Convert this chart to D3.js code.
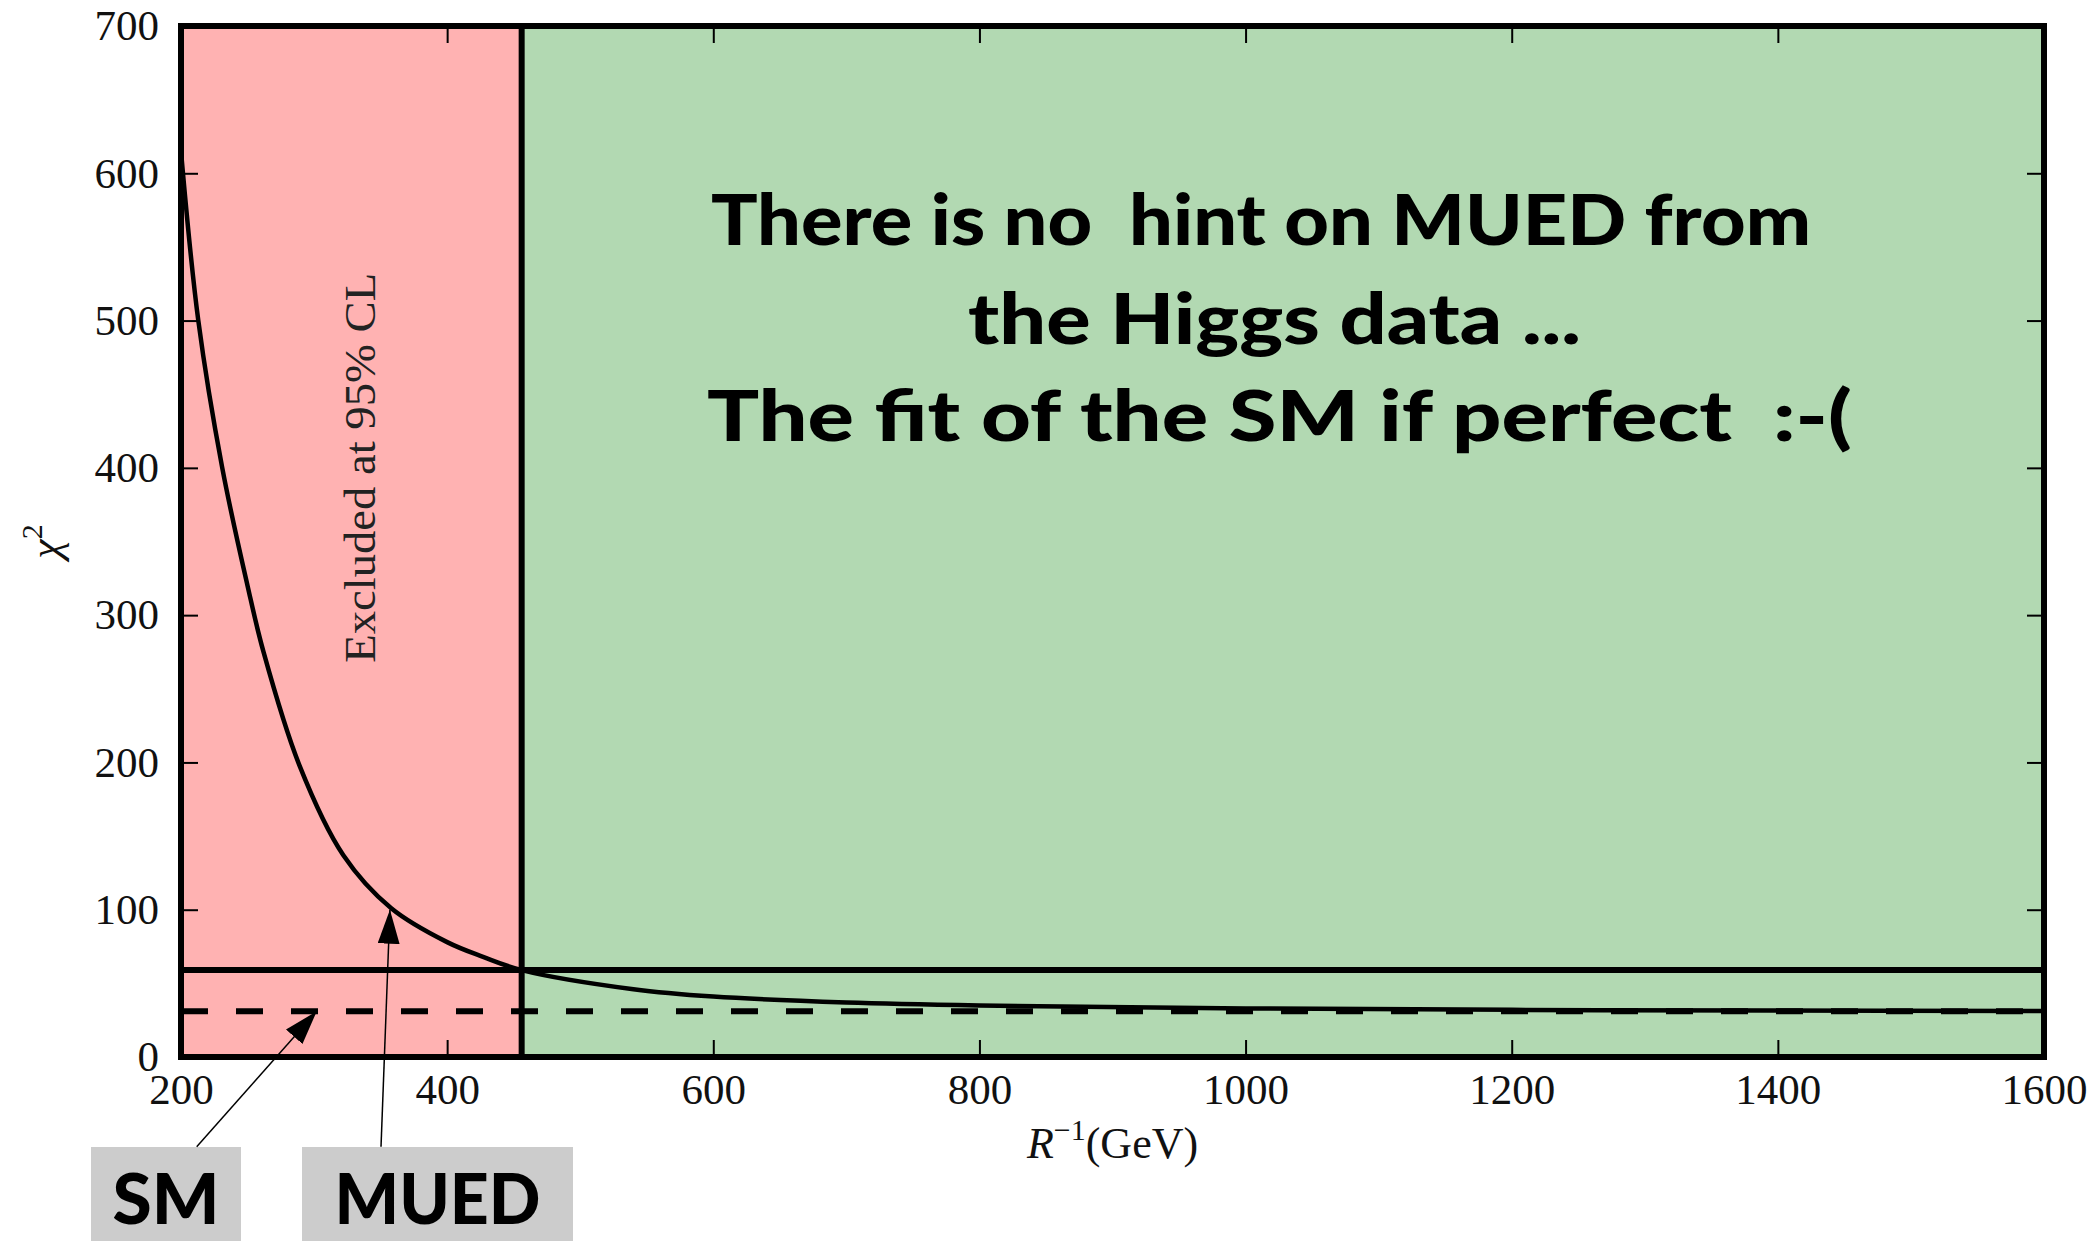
<!DOCTYPE html>
<html lang="en">
<head>
<meta charset="UTF-8">
<title>chi2 vs R^-1</title>
<script src="https://cdn.jsdelivr.net/npm/d3@7"></script>
<style>
  body { margin: 0; background: #fff; }
  .tick text { font-family: "Liberation Serif", "DejaVu Serif", serif; font-size: 43px; fill: #111; }
  .note { font-family: "Lato", "Open Sans", sans-serif; font-weight: 900; font-size: 70px; fill: #000; }
</style>
</head>
<body>
<script>

// ---- data ----
var xTicks = [200, 400, 600, 800, 1000, 1200, 1400, 1600];
var yTicks = [0, 100, 200, 300, 400, 500, 600, 700];

// MUED chi^2 curve
var rInv  = [200, 213, 231, 250, 262, 289, 322, 358, 400, 427, 456, 540, 600, 700, 800, 1000, 1200, 1400, 1600];
var chi2  = [615, 500, 400, 320, 275, 198, 137, 101,  78,  68,  59,  46,  41,  37,  35,   33,   32, 31.5, 31.3];

var chi2SM = 31;        // dashed line
var chi2Cut = 59;       // solid line
var rExcluded = 456;    // 95% CL exclusion boundary

var noteLines = ["There is no  hint on MUED from", "the Higgs data ...", "The fit of the SM if perfect  :-("];
var boxLabels = ["SM", "MUED"];
var arrowTips = [[302, 31], [357, 100]];
var arrowTails = [[211.8, -61], [350.3, -61]];

// ---- layout ----
var W = 2098, H = 1241;
var pLeft = 181, pRight = 2044, pTop = 26, pBottom = 1057;

var svg = d3.select("body").append("svg")
    .attr("width", W)
    .attr("height", H);

var x = d3.scaleLinear().domain([200, 1600]).range([pLeft, pRight]);
var y = d3.scaleLinear().domain([0, 700]).range([pBottom, pTop]);

var defs = svg.append("defs");
defs.append("clipPath").attr("id", "plotclip")
    .append("rect")
    .attr("x", pLeft).attr("y", pTop)
    .attr("width", pRight - pLeft).attr("height", pBottom - pTop);

defs.append("marker")
    .attr("id", "head")
    .attr("markerUnits", "userSpaceOnUse")
    .attr("viewBox", "0 -11 34 22")
    .attr("refX", 34).attr("refY", 0)
    .attr("markerWidth", 34).attr("markerHeight", 22)
    .attr("orient", "auto")
    .append("path")
    .attr("d", "M0,-11L34,0L0,11Z")
    .attr("fill", "#000");

// shaded regions
svg.append("rect")
    .attr("x", x(200)).attr("y", pTop)
    .attr("width", x(rExcluded) - x(200)).attr("height", pBottom - pTop)
    .attr("fill", "#ffb2b2");
svg.append("rect")
    .attr("x", x(rExcluded)).attr("y", pTop)
    .attr("width", x(1600) - x(rExcluded)).attr("height", pBottom - pTop)
    .attr("fill", "#b2d9b2");

// excluded label
svg.append("text")
    .attr("transform", "translate(" + x(346) + "," + y(400) + ") rotate(-90)")
    .attr("text-anchor", "middle")
    .attr("textLength", 390)
    .attr("lengthAdjust", "spacingAndGlyphs")
    .style("font-family", "'Liberation Serif', 'DejaVu Serif', serif")
    .style("font-size", "44px")
    .style("fill", "#222")
    .text("Excluded at 95% CL");

// axes (ticks inward on all four sides)
var tickLen = 17;
function styleAxis(g) {
    g.select(".domain").remove();
    g.selectAll(".tick line").attr("stroke", "#000").attr("stroke-width", 2);
}
svg.append("g")
    .attr("transform", "translate(0," + pBottom + ")")
    .call(d3.axisBottom(x).tickValues(xTicks).tickSize(-tickLen).tickPadding(16).tickFormat(d3.format("d")))
    .call(styleAxis);
svg.append("g")
    .attr("transform", "translate(0," + pTop + ")")
    .call(d3.axisTop(x).tickValues(xTicks).tickSize(-tickLen).tickFormat(""))
    .call(styleAxis);
svg.append("g")
    .attr("transform", "translate(" + pLeft + ",0)")
    .call(d3.axisLeft(y).tickValues(yTicks).tickSize(-tickLen).tickPadding(22).tickFormat(d3.format("d")))
    .call(styleAxis);
svg.append("g")
    .attr("transform", "translate(" + pRight + ",0)")
    .call(d3.axisRight(y).tickValues(yTicks).tickSize(-tickLen).tickFormat(""))
    .call(styleAxis);

// curve
var pts = rInv.map(function(r, i){ return [r, chi2[i]]; });
svg.append("path")
    .datum(pts)
    .attr("clip-path", "url(#plotclip)")
    .attr("fill", "none")
    .attr("stroke", "#000")
    .attr("stroke-width", 4.5)
    .attr("d", d3.line()
        .x(function(d){ return x(d[0]); })
        .y(function(d){ return y(d[1]); })
        .curve(d3.curveCatmullRom.alpha(0.5)));

// reference lines
svg.append("line")
    .attr("x1", x(200)).attr("x2", x(1600))
    .attr("y1", y(chi2Cut)).attr("y2", y(chi2Cut))
    .attr("stroke", "#000").attr("stroke-width", 6);
svg.append("line")
    .attr("x1", x(200)).attr("x2", x(1600))
    .attr("y1", y(chi2SM)).attr("y2", y(chi2SM))
    .attr("stroke", "#000").attr("stroke-width", 6)
    .attr("stroke-dasharray", "27,28");
svg.append("line")
    .attr("x1", x(rExcluded)).attr("x2", x(rExcluded))
    .attr("y1", pTop).attr("y2", pBottom)
    .attr("stroke", "#000").attr("stroke-width", 6);

// frame
svg.append("rect")
    .attr("x", pLeft).attr("y", pTop)
    .attr("width", pRight - pLeft).attr("height", pBottom - pTop)
    .attr("fill", "none").attr("stroke", "#000").attr("stroke-width", 6);

// axis labels
var ylab = svg.append("text")
    .attr("transform", "translate(60," + ((pTop + pBottom) / 2) + ") rotate(-90)")
    .attr("text-anchor", "middle")
    .style("font-family", "'Liberation Serif', 'DejaVu Serif', serif")
    .style("font-size", "44px")
    .style("fill", "#111");
ylab.append("tspan").style("font-style", "italic").text("χ");
ylab.append("tspan").attr("dy", -18).style("font-size", "30px").text("2");

var xlab = svg.append("text")
    .attr("x", (pLeft + pRight) / 2).attr("y", 1158)
    .attr("text-anchor", "middle")
    .style("font-family", "'Liberation Serif', 'DejaVu Serif', serif")
    .style("font-size", "44px")
    .style("fill", "#111");
xlab.append("tspan").style("font-style", "italic").text("R");
xlab.append("tspan").attr("dy", -18).style("font-size", "30px").text("−1");
xlab.append("tspan").attr("dy", 18).text("(GeV)");

// note text
var noteX = [1261, 1274.5, 1279.5];
var noteY = [245, 344, 441];
var noteW = [1100, 613, 1145];
svg.selectAll(".note")
    .data(noteLines)
    .enter()
    .append("text")
    .attr("class", "note")
    .attr("x", function(d, i){ return noteX[i]; })
    .attr("y", function(d, i){ return noteY[i]; })
    .attr("text-anchor", "middle")
    .attr("textLength", function(d, i){ return noteW[i]; })
    .attr("lengthAdjust", "spacingAndGlyphs")
    .style("white-space", "pre")
    .text(function(d){ return d; });

// label boxes and arrows
var boxX = [91, 302], boxW = [150, 271];
var boxTop = 1147;
svg.selectAll(".lbox")
    .data(boxLabels)
    .enter()
    .append("rect")
    .attr("class", "lbox")
    .attr("x", function(d, i){ return boxX[i]; })
    .attr("y", boxTop)
    .attr("width", function(d, i){ return boxW[i]; })
    .attr("height", H - boxTop + 10)
    .attr("fill", "#cccccc");

svg.selectAll(".ltext")
    .data(boxLabels)
    .enter()
    .append("text")
    .attr("class", "note ltext")
    .attr("x", function(d, i){ return boxX[i] + boxW[i] / 2; })
    .attr("y", 1224)
    .attr("text-anchor", "middle")
    .attr("textLength", function(d, i){ return i === 0 ? 107 : 206; })
    .attr("lengthAdjust", "spacingAndGlyphs")
    .text(function(d){ return d; });

svg.selectAll(".arrow")
    .data(arrowTips)
    .enter()
    .append("line")
    .attr("class", "arrow")
    .attr("x1", function(d, i){ return x(arrowTails[i][0]); })
    .attr("y1", function(d, i){ return y(arrowTails[i][1]); })
    .attr("x2", function(d){ return x(d[0]); })
    .attr("y2", function(d){ return y(d[1]); })
    .attr("stroke", "#000")
    .attr("stroke-width", 1.5)
    .attr("marker-end", "url(#head)");

</script>
</body>
</html>
